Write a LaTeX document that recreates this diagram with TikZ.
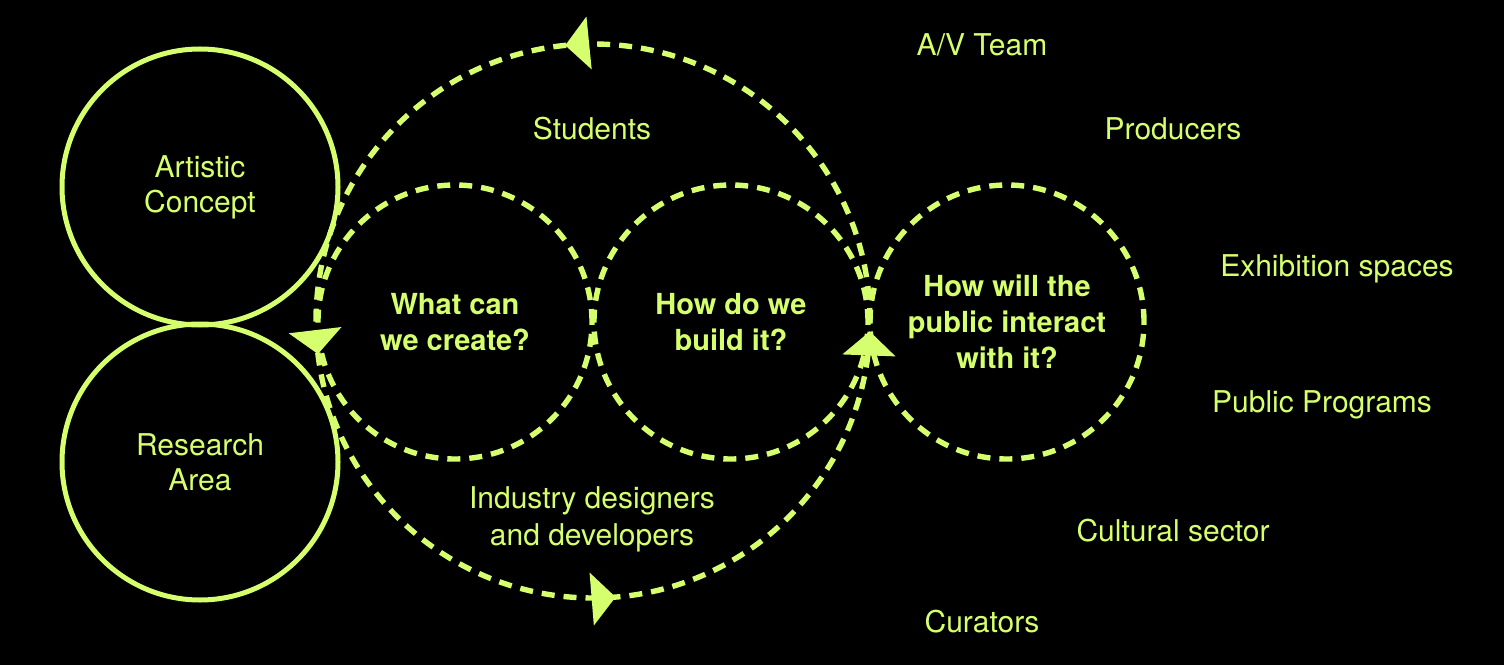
\documentclass[tikz,border=0pt]{standalone}
\usepackage{fontspec}
\setmainfont{TeX Gyre Heros}
\usetikzlibrary{positioning,arrows.meta,decorations.markings}
\definecolor{lime}{RGB}{214,255,110}

\begin{document}
\begin{tikzpicture}[x=0.5pt,y=0.5pt,
	ring/.style={circle,draw=lime,line width=2.5pt,minimum size=138pt,inner sep=0pt,
		text=lime,align=center,font=\fontsize{15}{17.5}\selectfont},
	dring/.style={circle,draw=lime,line width=2.7pt,dash pattern=on 6.5pt off 4.5pt,
		minimum size=137pt,inner sep=0pt,outer sep=0.5pt,text=lime,align=center,
		font=\bfseries\fontsize{14.5}{18}\selectfont},
	lbl/.style={text=lime,align=center,font=\fontsize{15}{18.5}\selectfont},
	flow/.style={draw=lime,line width=2.7pt,dash pattern=on 6.5pt off 4.5pt,
		postaction={decorate},
		decoration={markings,
			mark=at position 0.266 with {\arrow[lime]{Triangle[length=12pt,width=26pt]}},
			mark=at position 0.519 with {\arrow[lime]{Triangle[length=12pt,width=26pt]}},
			mark=at position 0.763 with {\arrow[lime]{Triangle[length=12pt,width=26pt]}},
			mark=at position 0.994 with {\arrow[lime]{Triangle[length=12pt,width=26pt]}}}}]
	\fill[black] (0,0) rectangle (1504,665);
	\useasboundingbox (0,0) rectangle (1504,665);
	
	% loop round the three questions
	\coordinate (hub) at (593,344);
	\draw[flow] (hub) circle[radius=277];
	
	\node[ring] (art) at (200,478) {Artistic\\Concept};
	\node[ring] (res) at (200,203) {Research\\Area};
	
	\node[dring] (make) at (455,343) {What can\\we create?};
	\node[dring,right=0pt of make] (build) {How do we\\build it?};
	\node[dring,right=0pt of build] (meet) {How will the\\public interact\\with it?};
	
	\node[lbl] (stud) at (592,536) {Students};
	\node[lbl] (ind) at (592,146) {Industry designers\\and developers};
	\node[lbl] (av) at (982,620) {A/V Team};
	\node[lbl] (prod) at (1173,536) {Producers};
	\node[lbl] (exh) at (1337,396) {Exhibition spaces};
	\node[lbl] (pub) at (1322,260) {Public Programs};
	\node[lbl] (cult) at (1173,134) {Cultural sector};
	\node[lbl] (cur) at (982,43) {Curators};
\end{tikzpicture}
\end{document}
